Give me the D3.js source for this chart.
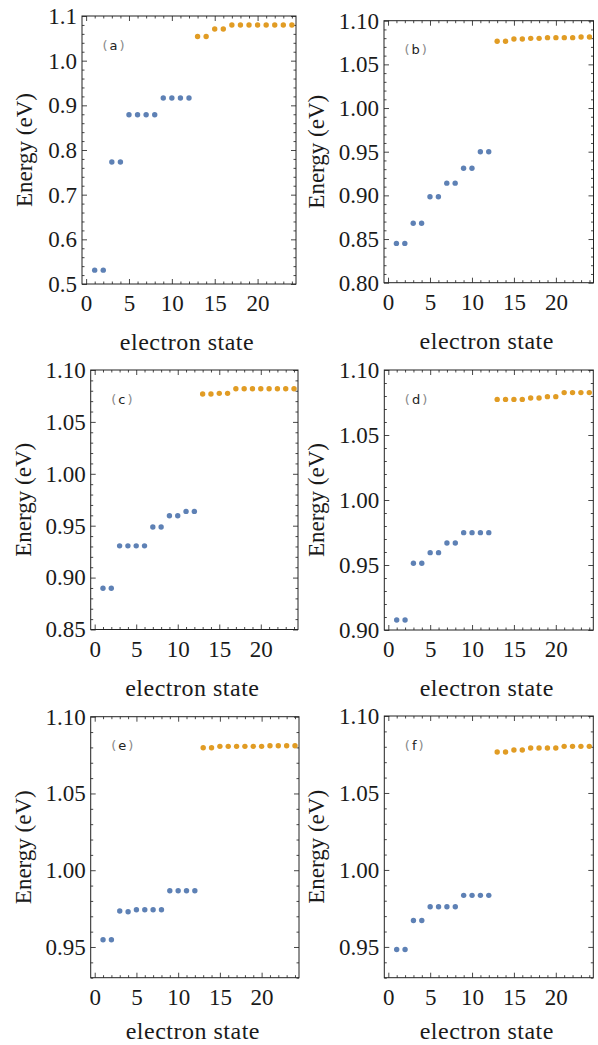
<!DOCTYPE html>
<html>
<head>
<meta charset="utf-8">
<script src="https://cdn.jsdelivr.net/npm/d3@7"></script>
<style>
  html, body { margin: 0; padding: 0; background: #fff; }
  svg { display: block; }
  svg text.serif { font-family: "Liberation Serif", "Times New Roman", Times, "Noto Serif", "DejaVu Serif", Tinos, FreeSerif, serif !important; }
  svg text.sans { font-family: "DejaVu Sans", sans-serif; }
</style>
</head>
<body>
<svg id="chart" width="598" height="1045"></svg>
<script>
// ---------------- data ----------------
const panelNames = ["a", "b", "c", "d", "e", "f"];
const statesLow  = [1, 2, 3, 4, 5, 6, 7, 8, 9, 10, 11, 12];
const statesHigh = [13, 14, 15, 16, 17, 18, 19, 20, 21, 22, 23, 24];
const xTicks = [0, 5, 10, 15, 20];

const lowA  = [0.531, 0.531, 0.773, 0.773, 0.879, 0.879, 0.879, 0.879, 0.9165, 0.9165, 0.9165, 0.9165];
const highA = [1.054, 1.054, 1.071, 1.071, 1.080, 1.080, 1.080, 1.080, 1.080, 1.080, 1.080, 1.080];

const lowB  = [0.845, 0.845, 0.868, 0.868, 0.8985, 0.8985, 0.914, 0.914, 0.931, 0.931, 0.950, 0.950];
const highB = [1.0764, 1.0764, 1.079, 1.079, 1.0798, 1.0798, 1.0806, 1.0806, 1.0806, 1.0806, 1.0813, 1.0813];

const lowC  = [0.8898, 0.8898, 0.9306, 0.9306, 0.9306, 0.9306, 0.9488, 0.9488, 0.9596, 0.9596, 0.9638, 0.9638];
const highC = [1.0769, 1.0769, 1.0775, 1.0775, 1.082, 1.082, 1.082, 1.082, 1.082, 1.082, 1.082, 1.082];

const lowD  = [0.9077, 0.9077, 0.9513, 0.9513, 0.9595, 0.9595, 0.9669, 0.9669, 0.9749, 0.9749, 0.9749, 0.9749];
const highD = [1.0774, 1.0774, 1.0774, 1.0774, 1.0785, 1.0785, 1.0795, 1.0795, 1.0826, 1.0826, 1.0826, 1.0826];

const lowE  = [0.9547, 0.9547, 0.9734, 0.9730, 0.9743, 0.9743, 0.9743, 0.9743, 0.9866, 0.9866, 0.9866, 0.9866];
const highE = [1.0798, 1.0798, 1.0807, 1.0807, 1.0807, 1.0807, 1.0807, 1.0807, 1.0811, 1.0811, 1.0811, 1.0811];

const lowF  = [0.9483, 0.9483, 0.9672, 0.9672, 0.9761, 0.9761, 0.9761, 0.9761, 0.9835, 0.9835, 0.9835, 0.9835];
const highF = [1.0766, 1.0766, 1.0779, 1.0779, 1.0792, 1.0792, 1.0792, 1.0792, 1.0803, 1.0803, 1.0803, 1.0803];

const yRanges = {
  a: [0.5, 1.1], b: [0.8, 1.1], c: [0.85, 1.1],
  d: [0.9, 1.1], e: [0.93, 1.1], f: [0.93, 1.1]
};
const yTickValues = {
  a: [0.5, 0.6, 0.7, 0.8, 0.9, 1.0, 1.1],
  b: [0.80, 0.85, 0.90, 0.95, 1.00, 1.05, 1.10],
  c: [0.85, 0.90, 0.95, 1.00, 1.05, 1.10],
  d: [0.90, 0.95, 1.00, 1.05, 1.10],
  e: [0.95, 1.00, 1.05, 1.10],
  f: [0.95, 1.00, 1.05, 1.10]
};
const yTickDigits = { a: 1, b: 2, c: 2, d: 2, e: 2, f: 2 };
const yMinorStep = { a: 0.02, b: 0.01, c: 0.01, d: 0.01, e: 0.01, f: 0.01 };
const lowSeries  = { a: lowA, b: lowB, c: lowC, d: lowD, e: lowE, f: lowF };
const highSeries = { a: highA, b: highB, c: highC, d: highD, e: highE, f: highF };
const xLabel = "electron state";
const yLabel = "Energy (eV)";

// ---------------- layout ----------------
const frames = {
  a: { x0: 82,   x1: 296,   y0: 16,    y1: 284 },
  b: { x0: 384,  x1: 593.5, y0: 20.7,  y1: 282.7 },
  c: { x0: 90.7, x1: 298,   y0: 370,   y1: 629.5 },
  d: { x0: 384.3,x1: 593.3, y0: 370,   y1: 630 },
  e: { x0: 90.7, x1: 299,   y0: 716.7, y1: 977.7 },
  f: { x0: 384.3,x1: 593.3, y0: 716,   y1: 977.7 }
};
const axisLabelX = { a: 24, b: 316, c: 23, d: 316, e: 23, f: 316 };
const colLow = "#5E81B5", colHigh = "#E19C24";
const serifStack = '"Liberation Serif", "Times New Roman", Times, "Noto Serif", "DejaVu Serif", Tinos, FreeSerif, serif';

const svg = d3.select("#chart");

function minorTicks(lo, hi, step) {
  const out = [];
  const n = Math.round((hi - lo) / step);
  for (let i = 0; i <= n; i++) out.push(+(lo + i * step).toFixed(4));
  return out;
}

panelNames.forEach(name => {
  const fr = frames[name];
  const w = fr.x1 - fr.x0, h = fr.y1 - fr.y0;
  const g = svg.append("g").attr("transform", `translate(${fr.x0},${fr.y0})`);

  const x = d3.scaleLinear().domain([-0.48, 24.48]).range([0, w]);
  const y = d3.scaleLinear().domain(yRanges[name]).range([h, 0]);

  const fmt = d3.format("." + yTickDigits[name] + "f");
  const yMinor = minorTicks(yRanges[name][0], yRanges[name][1], yMinorStep[name])
    .filter(v => !yTickValues[name].some(t => Math.abs(t - v) < 1e-6));
  const xMinor = d3.range(0, 25).filter(v => v % 5 !== 0);

  const styleAxis = sel => {
    sel.attr("font-family", serifStack).attr("font-size", 23);
    sel.select(".domain").remove();
    sel.selectAll("line").attr("stroke", "#333").attr("stroke-width", 0.9);
    sel.selectAll("text").attr("class", "serif")
      .attr("font-family", serifStack).style("font-size", "23px").attr("fill", "#1a1a1a");
  };

  // major ticks with labels
  g.append("g").attr("transform", `translate(0,${h})`)
    .call(d3.axisBottom(x).tickValues(xTicks).tickSize(-5).tickPadding(11).tickFormat(d3.format("d")))
    .call(styleAxis);
  g.append("g")
    .call(d3.axisLeft(y).tickValues(yTickValues[name]).tickSize(-5).tickPadding(5).tickFormat(fmt))
    .call(styleAxis);
  // mirrored ticks
  g.append("g").call(d3.axisTop(x).tickValues(xTicks).tickSize(-5).tickFormat("")).call(styleAxis);
  g.append("g").attr("transform", `translate(${w},0)`)
    .call(d3.axisRight(y).tickValues(yTickValues[name]).tickSize(-5).tickFormat("")).call(styleAxis);
  // minor ticks
  g.append("g").attr("transform", `translate(0,${h})`)
    .call(d3.axisBottom(x).tickValues(xMinor).tickSize(-2.5).tickFormat("")).call(styleAxis);
  g.append("g").call(d3.axisTop(x).tickValues(xMinor).tickSize(-2.5).tickFormat("")).call(styleAxis);
  g.append("g").call(d3.axisLeft(y).tickValues(yMinor).tickSize(-2.5).tickFormat("")).call(styleAxis);
  g.append("g").attr("transform", `translate(${w},0)`)
    .call(d3.axisRight(y).tickValues(yMinor).tickSize(-2.5).tickFormat("")).call(styleAxis);

  // frame
  g.append("rect").attr("x", 0).attr("y", 0).attr("width", w).attr("height", h)
    .attr("fill", "none").attr("stroke", "#222").attr("stroke-width", 1);

  // points
  const clipId = "clip-" + name;
  g.append("clipPath").attr("id", clipId).append("rect")
    .attr("x", 0).attr("y", 0).attr("width", w).attr("height", h);
  const pts = g.append("g").attr("clip-path", `url(#${clipId})`);
  pts.selectAll("circle.low").data(statesLow.map((s, i) => [s, lowSeries[name][i]]))
    .enter().append("circle").attr("class", "low")
    .attr("cx", d => x(d[0])).attr("cy", d => y(d[1])).attr("r", 2.7).attr("fill", colLow);
  pts.selectAll("circle.high").data(statesHigh.map((s, i) => [s, highSeries[name][i]]))
    .enter().append("circle").attr("class", "high")
    .attr("cx", d => x(d[0])).attr("cy", d => y(d[1])).attr("r", 2.7).attr("fill", colHigh);

  // panel label
  const lab = g.append("text").attr("x", 20.5).attr("y", 33.5)
    .attr("class", "sans").style("font-size", "13px");
  lab.append("tspan").attr("fill", "#8a8a8a").text("(");
  lab.append("tspan").attr("fill", "#222").attr("dx", 2).text(name);
  lab.append("tspan").attr("fill", "#8a8a8a").attr("dx", 2).text(")");

  // axis labels
  svg.append("text")
    .attr("transform", `translate(${axisLabelX[name]},${fr.y0 + h / 2}) rotate(-90)`)
    .attr("text-anchor", "middle").attr("dominant-baseline", "central")
    .attr("class", "serif").attr("font-family", serifStack)
    .style("font-size", "23px").attr("fill", "#1a1a1a")
    .text(yLabel);
  svg.append("text")
    .attr("x", fr.x0 + w / 2 - 2).attr("y", Math.min(fr.y1 + 66, 1039))
    .attr("text-anchor", "middle")
    .attr("class", "serif").attr("font-family", serifStack)
    .style("font-size", "24px").style("letter-spacing", "0.5px")
    .attr("fill", "#1a1a1a")
    .text(xLabel);
});
</script>
</body>
</html>
